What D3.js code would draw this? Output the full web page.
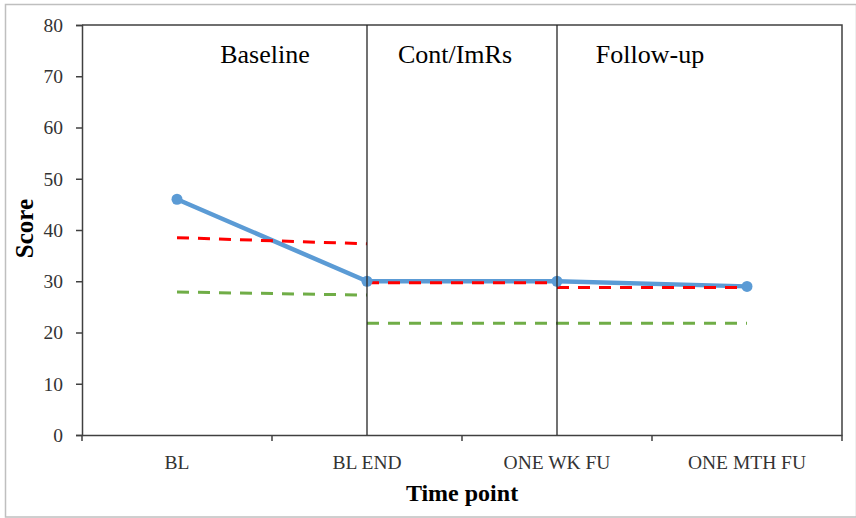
<!DOCTYPE html>
<html>
<head>
<meta charset="utf-8">
<script src="https://cdn.jsdelivr.net/npm/d3@7"></script>
<style>
  html, body { margin: 0; padding: 0; background: #fff; }
  svg { display: block; }
  text { font-family: "Liberation Serif", "Times New Roman", serif; }
</style>
</head>
<body>
<svg id="chart" width="856" height="518"></svg>
<script>
// Time points along the x axis
const categories = ["BL", "BL END", "ONE WK FU", "ONE MTH FU"];
// Observed score at each time point
const scores = [46, 30, 30, 29];
// Study phases; phase i runs from categories[i] to categories[i + 1]
const phases = ["Baseline", "Cont/ImRs", "Follow-up"];
// Red dashed reference line per phase (start and end value)
const redStart = [38.5, 29.7, 28.8];
const redEnd   = [37.3, 29.7, 28.8];
// Green dashed reference line per phase (start and end value)
const greenStart = [27.9, 21.8, 21.8];
const greenEnd   = [27.3, 21.8, 21.8];
// Y axis ticks
const yTicks = [0, 10, 20, 30, 40, 50, 60, 70, 80];

const svg = d3.select("#chart");
const plotLeft = 82, plotRight = 842, plotTop = 25, plotBottom = 435;

// outer frame
svg.append("rect")
  .attr("x", 5.5).attr("y", 4.5)
  .attr("width", 851).attr("height", 512.5)
  .attr("fill", "none").attr("stroke", "#bfbfbf").attr("stroke-width", 1.5);

const x = d3.scaleBand().domain(categories).range([plotLeft, plotRight]).padding(0);
const cx = c => x(c) + x.bandwidth() / 2;
const y = d3.scaleLinear().domain([0, 80]).range([plotBottom, plotTop]);

// plot box (top and right edges)
svg.append("path")
  .attr("d", `M${plotLeft},${plotTop}H${plotRight}V${plotBottom}`)
  .attr("fill", "none").attr("stroke", "#404040").attr("stroke-width", 1.5);

// y axis
const yAxis = svg.append("g")
  .attr("transform", `translate(${plotLeft},0)`)
  .call(d3.axisLeft(y).tickValues(yTicks).tickSize(6).tickPadding(13));
yAxis.select(".domain").attr("stroke", "#404040").attr("stroke-width", 1.5);
yAxis.selectAll(".tick line").attr("stroke", "#404040").attr("stroke-width", 1.5);
yAxis.selectAll(".tick text")
  .attr("font-family", "Liberation Serif, serif")
  .attr("font-size", 19.5).attr("fill", "#333");

// x axis: ticks at band boundaries, labels at band centres
const xAxis = svg.append("g")
  .attr("transform", `translate(0,${plotBottom})`)
  .call(d3.axisBottom(x).tickSize(0).tickPadding(20));
xAxis.select(".domain").attr("stroke", "#404040").attr("stroke-width", 1.5);
xAxis.selectAll(".tick text")
  .attr("font-family", "Liberation Serif, serif")
  .attr("font-size", 19.5).attr("fill", "#333");
const bounds = categories.map(c => x(c)).concat([x.range()[1]]);
svg.append("g").selectAll("line").data(bounds).join("line")
  .attr("x1", d => d).attr("x2", d => d)
  .attr("y1", plotBottom).attr("y2", plotBottom + 6)
  .attr("stroke", "#404040").attr("stroke-width", 1.5);

// observed score line
const line = d3.line().x((d, i) => cx(categories[i])).y(d => y(d));
svg.append("path")
  .datum(scores)
  .attr("d", line)
  .attr("fill", "none").attr("stroke", "#5b9bd5").attr("stroke-width", 4.5)
  .attr("stroke-linejoin", "round");

// dashed phase reference lines
function phaseSegments(starts, ends, color) {
  svg.append("g").selectAll("line").data(phases).join("line")
    .attr("x1", (d, i) => cx(categories[i]))
    .attr("x2", (d, i) => cx(categories[i + 1]))
    .attr("y1", (d, i) => y(starts[i]))
    .attr("y2", (d, i) => y(ends[i]))
    .attr("stroke", color).attr("stroke-width", 3)
    .attr("stroke-dasharray", "12,9");
}
phaseSegments(greenStart, greenEnd, "#70ad47");
phaseSegments(redStart, redEnd, "#ff0000");

// score markers
svg.append("g").selectAll("circle").data(scores).join("circle")
  .attr("cx", (d, i) => cx(categories[i]))
  .attr("cy", d => y(d))
  .attr("r", 5.5)
  .attr("fill", "#5b9bd5");

// phase change lines
svg.append("g").selectAll("line").data(categories.slice(1, 3)).join("line")
  .attr("x1", d => cx(d)).attr("x2", d => cx(d))
  .attr("y1", plotTop).attr("y2", plotBottom)
  .attr("stroke", "#262626").attr("stroke-width", 1.3);

// phase labels
const labelShift = [-7, -7, -2];
svg.append("g").selectAll("text").data(phases).join("text")
  .attr("x", (d, i) => (cx(categories[i]) + cx(categories[i + 1])) / 2 + labelShift[i])
  .attr("y", 63)
  .attr("text-anchor", "middle")
  .attr("font-size", 26)
  .attr("fill", "#000")
  .text(d => d);

// axis titles
svg.append("text")
  .attr("x", (plotLeft + plotRight) / 2).attr("y", 501)
  .attr("text-anchor", "middle")
  .attr("font-size", 24).attr("font-weight", "bold")
  .text("Time point");
svg.append("text")
  .attr("transform", `translate(33,${228.5}) rotate(-90)`)
  .attr("text-anchor", "middle")
  .attr("font-size", 25).attr("font-weight", "bold")
  .text("Score");
</script>
</body>
</html>
